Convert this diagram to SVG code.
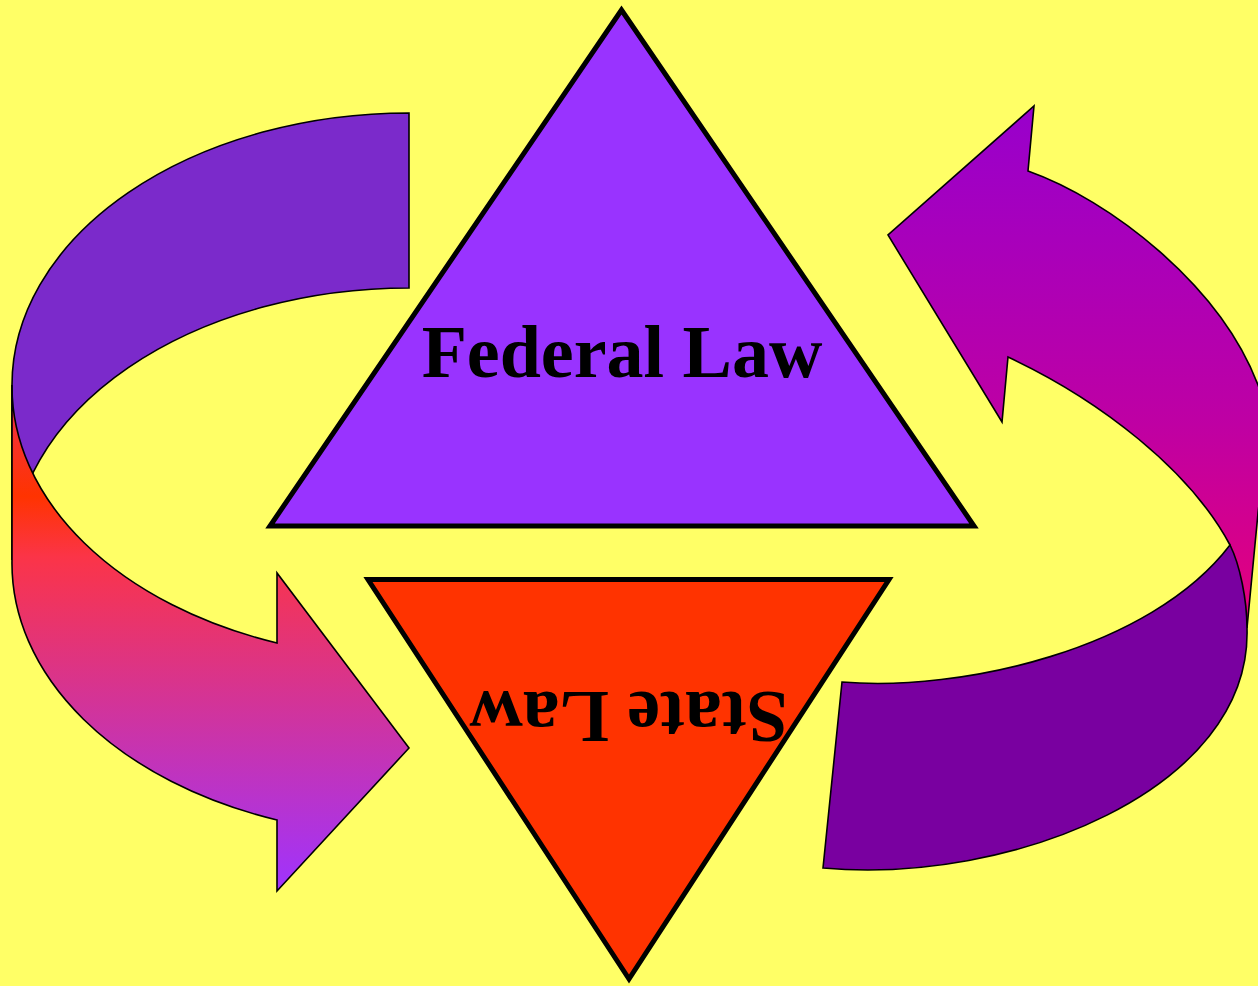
<svg xmlns="http://www.w3.org/2000/svg" width="1258" height="986" viewBox="0 0 1258 986">
<style>
.arrow{stroke:#000;stroke-width:1.6;stroke-linejoin:miter}
.tri{stroke:#000;stroke-width:5;stroke-linejoin:miter;stroke-miterlimit:10}
.lbl{font-family:"Liberation Serif","Times New Roman",serif;font-weight:bold;font-size:74px;fill:#000}
</style>
<defs>
<linearGradient id="gLeft" gradientUnits="userSpaceOnUse" x1="0" y1="385" x2="0" y2="891">
<stop offset="0" stop-color="#EE3050"/>
<stop offset="0.22" stop-color="#FF3300"/>
<stop offset="0.34" stop-color="#FB3448"/>
<stop offset="1" stop-color="#9F33FF"/>
</linearGradient>
<linearGradient id="gRight" gradientUnits="userSpaceOnUse" x1="0" y1="106" x2="0" y2="628">
<stop offset="0" stop-color="#9800CC"/>
<stop offset="0.6" stop-color="#BE00A4"/>
<stop offset="1" stop-color="#E6007A"/>
</linearGradient>
</defs>
<rect x="0" y="0" width="1258" height="986" fill="#FFFF66"/>
<g id="connectors">
<g id="arrow-left">
<path class="arrow" fill="#7B2ACB" d="M409,113 A397,272 0 0 0 12,385 L12,560 A397,272 0 0 1 409,288 Z"/>
<path class="arrow" fill="url(#gLeft)" d="M12,385 A397,272 0 0 0 277,643 L277,573 L409,748 L277,891 L277,820 A397,272 0 0 1 12,560 Z"/>
</g>
<g id="arrow-right">
<path class="arrow" fill="url(#gRight)" d="M1028,171 C1110,200 1220,285 1258,385 C1271,419 1262,478 1258,513 L1247,628 L1230,545 C1190,470 1100,400 1008,357 L1002,422 L888,235 L1034,106 Z"/>
<path class="arrow" fill="#7900A0" d="M842,682 C960,692 1150,650 1230,545 C1240,565 1247,600 1247,628 C1252,790 1010,885 823,868 Z"/>
</g>
</g>
<g id="federal-law">
<polygon class="tri" fill="#9933FF" points="621.5,10 270,526 974,526"/>
<text class="lbl" x="622" y="377" text-anchor="middle">Federal Law</text>
</g>
<g id="state-law">
<polygon class="tri" fill="#FF3300" points="368,579.5 889,579.5 629,979"/>
<text class="lbl" text-anchor="middle" transform="translate(628.5,692) rotate(180)">State Law</text>
</g>
</svg>
